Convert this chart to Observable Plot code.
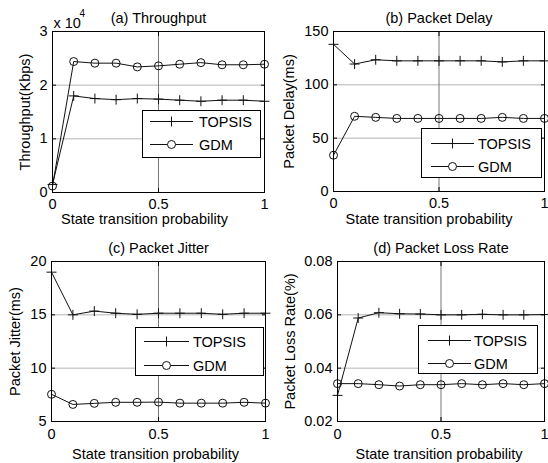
<!DOCTYPE html>
<html><head><meta charset="utf-8">
<script src="https://cdn.jsdelivr.net/npm/d3@7"></script>
<script src="https://cdn.jsdelivr.net/npm/@observablehq/plot@0.6"></script>
<style>
body{margin:0;background:#fff;}
#chart{position:relative;width:548px;height:463px;background:#fff;overflow:hidden;}
#chart > div{position:absolute;}
</style></head><body><div id="chart"></div>
<script>
// ---- data ----
const xValues = [0, 0.1, 0.2, 0.3, 0.4, 0.5, 0.6, 0.7, 0.8, 0.9, 1.0];
const seriesNames = ["TOPSIS", "GDM"];
const xTickValues = [0, 0.5, 1];
const xLabel = "State transition probability";

const throughputTOPSIS = [1500, 18000, 17500, 17300, 17500, 17400, 17200, 17000, 17200, 17200, 17000];
const throughputGDM    = [1200, 24400, 24100, 24100, 23400, 23600, 23900, 24200, 23800, 23800, 23900];
const delayTOPSIS = [138, 119.5, 123.5, 122.5, 122.5, 122.5, 122.5, 122.5, 121.5, 122.5, 122.5];
const delayGDM    = [34, 70.5, 69.5, 68.5, 68.5, 68.5, 68.5, 68.5, 69.5, 68.5, 68.5];
const jitterTOPSIS = [19.0, 15.0, 15.35, 15.15, 15.05, 15.15, 15.15, 15.15, 15.05, 15.15, 15.15];
const jitterGDM    = [7.55, 6.6, 6.7, 6.8, 6.8, 6.82, 6.72, 6.72, 6.72, 6.8, 6.72];
const lossTOPSIS = [0.0298, 0.0588, 0.0608, 0.0604, 0.0603, 0.0600, 0.0600, 0.0602, 0.0600, 0.0600, 0.0601];
const lossGDM    = [0.0342, 0.0342, 0.0338, 0.0333, 0.0338, 0.0338, 0.0342, 0.0338, 0.0342, 0.0338, 0.0342];

const titles = ["(a) Throughput", "(b) Packet Delay", "(c) Packet Jitter", "(d) Packet Loss Rate"];
const yLabels = ["Throughput(Kbps)", "Packet Delay(ms)", "Packet Jitter(ms)", "Packet Loss Rate(%)"];
const yTicksA = [0, 10000, 20000, 30000];
const yTicksB = [0, 50, 100, 150];
const yTicksC = [5, 10, 15, 20];
const yTicksD = [0.02, 0.04, 0.06, 0.08];
const yTickLabelsA = ["0", "1", "2", "3"];
const yTickLabelsB = ["0", "50", "100", "150"];
const yTickLabelsC = ["5", "10", "15", "20"];
const yTickLabelsD = ["0.02", "0.04", "0.06", "0.08"];

// ---- layout ----
const FONT = "'Liberation Sans', Arial, sans-serif";
const FS = 14.5;

function makePanel(cfg) {
  const rowsT = xValues.map((x, i) => ({x, y: cfg.t[i]}));
  const rowsG = xValues.map((x, i) => ({x, y: cfg.g[i]}));
  const fmt = d => cfg.tickLabels[cfg.ticks.indexOf(d)];
  const inner = cfg.ticks.slice(1, -1);
  const m = cfg.margin;
  const marks = [
    Plot.gridY({ticks: inner, stroke: "#b4b4b4", strokeOpacity: 1}),
    Plot.gridX({ticks: [0.5], stroke: "#777", strokeOpacity: 1}),
    Plot.line(rowsT, {x: "x", y: "y", stroke: "#111", strokeWidth: 1}),
    Plot.dot(rowsT, {x: "x", y: "y", symbol: "plus", r: 3.3, stroke: "#111", strokeWidth: 1}),
    Plot.line(rowsG, {x: "x", y: "y", stroke: "#111", strokeWidth: 1}),
    Plot.dot(rowsG, {x: "x", y: "y", symbol: "circle", r: 4, stroke: "#111", fill: "none", strokeWidth: 1}),
    // tick labels
    Plot.axisX({ticks: xTickValues, tickSize: 0, tickPadding: cfg.xPad, tickFormat: d => String(d), label: null, fontSize: FS}),
    Plot.axisY({ticks: cfg.ticks, tickSize: 0, tickPadding: 5, tickFormat: fmt, label: null, fontSize: FS}),
    // inward ticks on all four sides
    Plot.axisX({anchor: "bottom", ticks: xTickValues, tickSize: 4, dy: -4, tickFormat: () => "", label: null}),
    Plot.axisX({anchor: "top", ticks: xTickValues, tickSize: 4, dy: 4, tickFormat: () => "", label: null}),
    Plot.axisY({anchor: "left", ticks: cfg.ticks, tickSize: 4, dx: 4, tickFormat: () => "", label: null}),
    Plot.axisY({anchor: "right", ticks: cfg.ticks, tickSize: 4, dx: -4, tickFormat: () => "", label: null}),
    Plot.frame({stroke: "black", strokeWidth: 1}),
    Plot.text([cfg.title], {frameAnchor: "top", textAnchor: "middle", dy: -9, lineAnchor: "bottom", fontSize: FS, fill: "black"}),
    Plot.text([cfg.ylabel], {frameAnchor: "left", textAnchor: "middle", rotate: -90, dx: cfg.ylabelDx, lineAnchor: "middle", fontSize: FS, fill: "black"}),
    Plot.text([xLabel], {frameAnchor: "bottom", textAnchor: "middle", dx: cfg.xlabelDx, dy: cfg.xlabelDy, lineAnchor: "bottom", fontSize: FS, fill: "black"})
  ];
  if (cfg.exponent) {
    marks.push(Plot.text(["x 10"], {frameAnchor: "top-left", textAnchor: "start", dx: 1, dy: -4, lineAnchor: "bottom", fontSize: FS, fill: "black"}));
    marks.push(Plot.text([cfg.exponent], {frameAnchor: "top-left", textAnchor: "start", dx: 27, dy: -15, lineAnchor: "bottom", fontSize: 10, fill: "black"}));
  }
  const svg = Plot.plot({
    width: 274, height: cfg.height,
    marginLeft: m[0], marginRight: m[1], marginTop: m[2], marginBottom: m[3],
    x: {domain: [0, 1]},
    y: {domain: [cfg.ticks[0], cfg.ticks[cfg.ticks.length - 1]]},
    style: {fontFamily: FONT, fontSize: FS + "px", background: "white", color: "black", overflow: "visible"},
    marks
  });
  // legend box
  const L = cfg.legend;
  const g = d3.select(svg).append("g").attr("font-family", FONT).attr("font-size", FS).attr("text-anchor", "start");
  g.append("rect").attr("x", L.x + 0.5).attr("y", L.y + 0.5).attr("width", L.w).attr("height", L.h)
    .attr("fill", "white").attr("stroke", "black");
  const sym = [d3.symbol(d3.symbolPlus, 3.3 * 3.3 * Math.PI), d3.symbol(d3.symbolCircle, 16 * Math.PI)];
  seriesNames.forEach((name, i) => {
    const yy = L.rows[i] + 0.5;
    g.append("line").attr("x1", L.x1).attr("x2", L.x2).attr("y1", yy).attr("y2", yy).attr("stroke", "#111");
    g.append("path").attr("d", sym[i]()).attr("transform", `translate(${(L.x1 + L.x2) / 2},${yy})`)
      .attr("fill", i === 1 ? "white" : "none").attr("stroke", "#111");
    g.append("text").attr("x", L.tx).attr("y", yy).attr("dy", "0.35em").attr("text-anchor", "start").attr("fill", "black").text(name);
  });
  return svg;
}

const panels = [
  {pos: [0, 0], height: 232, margin: [52, 10, 31, 40], t: throughputTOPSIS, g: throughputGDM, ticks: yTicksA, tickLabels: yTickLabelsA,
   title: titles[0], ylabel: yLabels[0], ylabelDx: -27, xlabelDx: -14, xlabelDy: 31, xPad: 6, exponent: "4",
   legend: {x: 142, y: 110, w: 118, h: 47, rows: [121, 144], x1: 150, x2: 193, tx: 199}},
  {pos: [274, 0], height: 232, margin: [59, 4, 31, 41], t: delayTOPSIS, g: delayGDM, ticks: yTicksB, tickLabels: yTickLabelsB,
   title: titles[1], ylabel: yLabels[1], ylabelDx: -44.5, xlabelDx: -10, xlabelDy: 32, xPad: 6,
   legend: {x: 147, y: 128, w: 120, h: 49, rows: [143, 166], x1: 157, x2: 200, tx: 204}},
  {pos: [0, 232], height: 231, margin: [51, 9, 29, 42], t: jitterTOPSIS, g: jitterGDM, ticks: yTicksC, tickLabels: yTickLabelsC,
   title: titles[2], ylabel: yLabels[2], ylabelDx: -36.5, xlabelDx: -3, xlabelDy: 37, xPad: 7.5,
   legend: {x: 135, y: 95, w: 128, h: 48, rows: [109, 133], x1: 144, x2: 189, tx: 193}},
  {pos: [274, 232], height: 231, margin: [63, 4, 29, 42], t: lossTOPSIS, g: lossGDM, ticks: yTicksD, tickLabels: yTickLabelsD,
   title: titles[3], ylabel: yLabels[3], ylabelDx: -47.5, xlabelDx: -2, xlabelDy: 37, xPad: 7.5,
   legend: {x: 144, y: 93, w: 119, h: 48, rows: [108, 131], x1: 154, x2: 197, tx: 200}}
];

const chart = document.getElementById("chart");
panels.forEach(cfg => {
  const div = document.createElement("div");
  div.style.left = cfg.pos[0] + "px";
  div.style.top = cfg.pos[1] + "px";
  div.appendChild(makePanel(cfg));
  chart.appendChild(div);
});
</script>
</body></html>
